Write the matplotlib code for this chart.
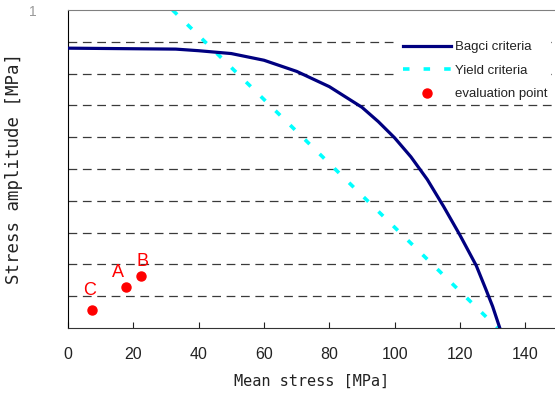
import matplotlib
matplotlib.use('Agg')
import matplotlib.pyplot as plt

# Bagci criteria curve
bagci_x = [0, 33, 40, 50, 60, 70, 80, 90, 95, 100, 105, 110, 115, 120, 125,
           128, 130, 132.2]
bagci_y = [88.0, 87.7, 87.2, 86.3, 84.2, 80.7, 75.9, 69.4, 64.9, 59.8, 53.8,
           46.7, 38.2, 29.2, 19.6, 12.0, 6.8, 0]

# Yield criteria line
yield_x = [32, 131.5]
yield_y = [100, 0]

# evaluation points
point_names = ['A', 'B', 'C']
point_x = [17.7, 22.3, 7.4]
point_y = [12.8, 16.4, 5.7]

x_ticks = [0, 20, 40, 60, 80, 100, 120, 140]
grid_levels = [10, 20, 30, 40, 50, 60, 70, 80, 90]

plt.rcParams['font.family'] = ['Liberation Sans', 'DejaVu Sans']

fig = plt.figure(figsize=(5.55, 3.99), dpi=100)
ax = fig.add_axes([68 / 555, 71 / 399, 1 - 68 / 555, 318 / 399])

for g in grid_levels:
    ax.axhline(g, color='#3a3a3a', lw=0.9, dashes=(7, 4.5), zorder=1)

ax.plot(bagci_x, bagci_y, color='#000080', lw=2.3, label='Bagci criteria', zorder=3)
ax.plot(yield_x, yield_y, color='#00ffff', lw=2.6, dashes=(1.8, 3.9),
        label='Yield criteria', zorder=2)
ax.plot(point_x, point_y, 'o', color='red', ms=6.5, ls='none',
        label='evaluation point', zorder=4)

offsets = {'A': (-5.5, 11), 'B': (1.4, 10), 'C': (-1.7, 13.7)}
for name, px, py in zip(point_names, point_x, point_y):
    ax.annotate(name, (px, py), xytext=offsets[name], textcoords='offset points',
                ha='center', va='center', color='red', fontsize=13)

ax.set_xlim(0, 149.1)
ax.set_ylim(0, 100)
ax.set_xticks(x_ticks)
ax.set_yticks([])
ax.tick_params(axis='x', direction='in', length=4, pad=14, labelsize=11.5,
               colors='#222222')

ax.spines['top'].set_color('#808080')
ax.spines['right'].set_visible(False)
ax.spines['left'].set_color('black')
ax.spines['bottom'].set_color('#333333')

mono = 'DejaVu Sans Mono'
ax.set_xlabel('Mean stress [MPa]', family=mono, fontsize=11, color='#222222')
ax.xaxis.set_label_coords(0.5, -0.145)
ax.set_ylabel('Stress amplitude [MPa]', family=mono, fontsize=12.5, color='#222222')
ax.yaxis.set_label_coords(-0.093, 0.5)

fig.text(33 / 555, 1 - 12 / 399, '1', fontsize=10, color='#999999',
         ha='center', va='center')

leg = ax.legend(loc='upper right', bbox_to_anchor=(1.006, 0.935), fontsize=9.5,
                frameon=True, fancybox=False, framealpha=1, edgecolor='none',
                handlelength=3.6, handletextpad=0.3, labelspacing=0.85,
                borderpad=0.3)
for t in leg.get_texts():
    t.set_color('#222222')

fig.savefig('out.png', dpi=100)
